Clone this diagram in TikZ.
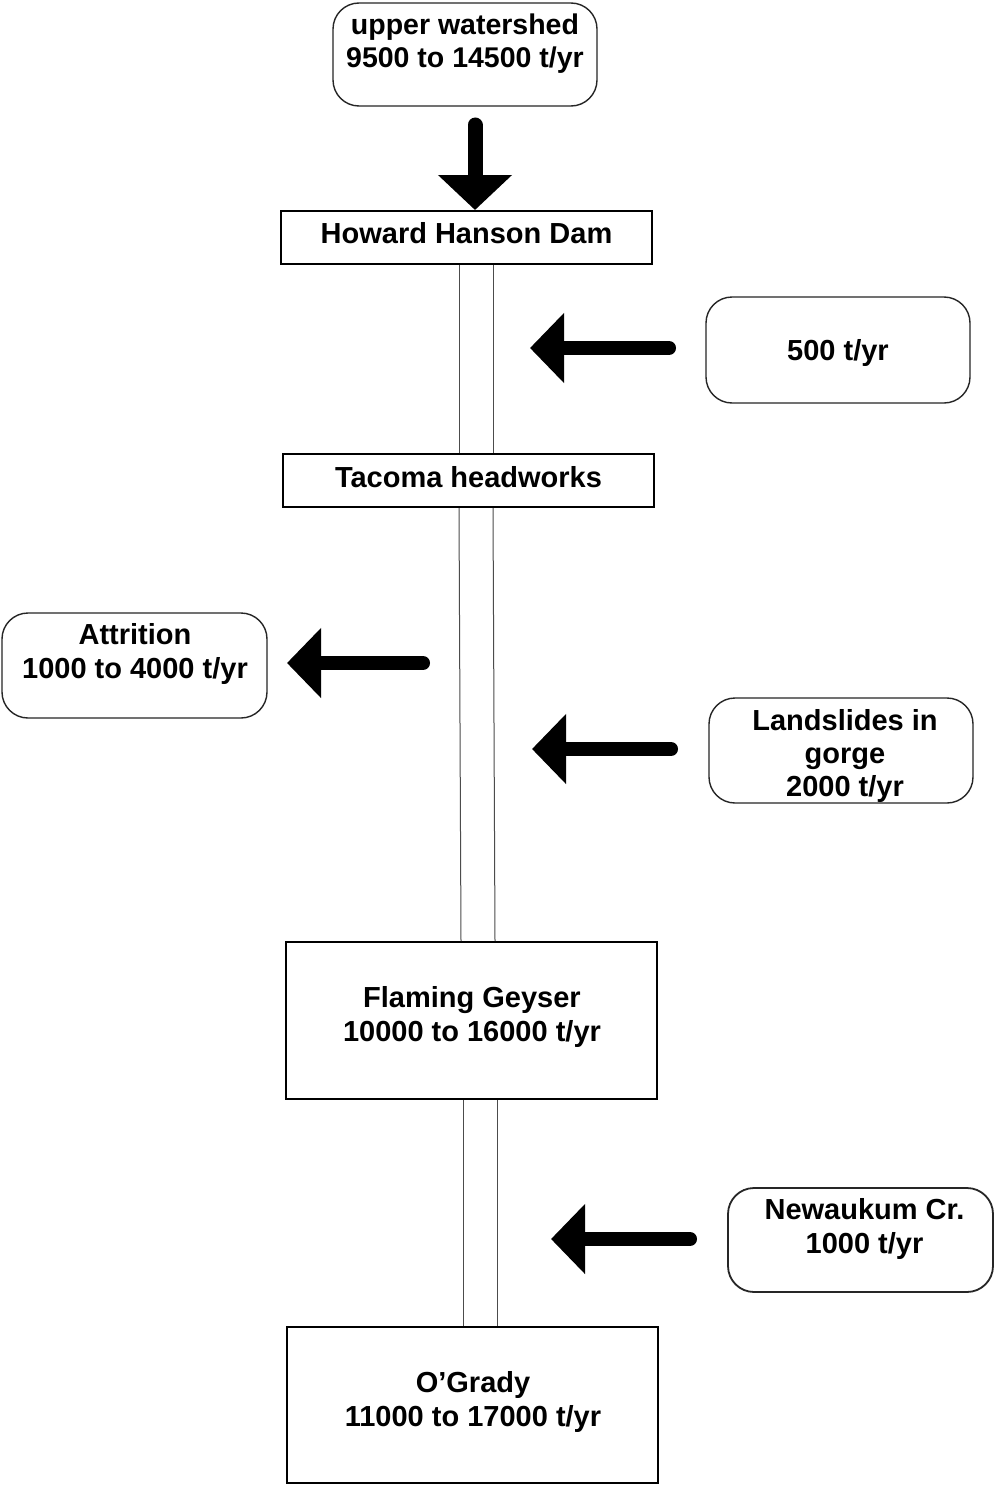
\documentclass[tikz,border=0pt]{standalone}
\usepackage{fontspec}
\setmainfont{Liberation Sans}
\usetikzlibrary{arrows.meta,calc}
\begin{document}
\begin{tikzpicture}[x=1pt,y=-1pt,
  rbox/.style={draw=black!85, line width=1.4pt, rounded corners=26pt, inner sep=0pt},
  sbox/.style={draw, line width=2pt, inner sep=0pt},
  lbl/.style={font=\bfseries\fontsize{29}{34}\selectfont, align=center, inner sep=0pt},
  chan/.style={draw=black!70, line width=1pt},
  flow/.style={line width=14pt, line cap=round, -{Triangle[length=34pt,width=68pt]}},
  flowdown/.style={line width=15pt, line cap=round, -{Triangle[length=35pt,width=72pt]}},
]
\useasboundingbox[fill=white] (0,0) rectangle (995,1485);

% rounded source boxes
\node[rbox, minimum width=264pt, minimum height=103pt] (uw) at (465,54.5) {};
\node[lbl, font=\bfseries\fontsize{28.5}{33}\selectfont] (uwt) at (465,44) {upper watershed\\9500 to 14500 t/yr};

\node[rbox, lbl, text depth=0pt, minimum width=264pt, minimum height=106pt] (w500) at (838,350) {500 t/yr};

\node[rbox, minimum width=265pt, minimum height=105pt] (att) at (134.5,665.5) {};
\node[lbl] (attt) at (135,653.5) {Attrition\\1000 to 4000 t/yr};

\node[rbox, minimum width=264pt, minimum height=105pt] (land) at (841,750.5) {};
\node[lbl, font=\bfseries\fontsize{29}{33}\selectfont] (landt) at (845,755.5) {Landslides in\\gorge\\2000 t/yr};

\node[rbox, line width=1.8pt, minimum width=265pt, minimum height=104pt] (new) at (860.5,1240) {};
\node[lbl] (newt) at (864.5,1229) {Newaukum Cr.\\1000 t/yr};

% square boxes
\node[sbox, lbl, text depth=9pt, minimum width=371pt, minimum height=53pt] (hhd) at (466.5,237.5) {Howard Hanson Dam};
\node[sbox, lbl, text depth=7pt, minimum width=371pt, minimum height=53pt] (tac) at (468.5,480.5) {Tacoma headworks};
\node[sbox, minimum width=371pt, minimum height=157pt] (fg) at (471.5,1020.5) {};
\node[lbl] (fgt) at (472,1016.5) {Flaming Geyser\\10000 to 16000 t/yr};
\node[sbox, minimum width=371pt, minimum height=156pt] (og) at (472.5,1405) {};
\node[lbl] (ogt) at (473,1402) {O’Grady\\11000 to 17000 t/yr};

% channel lines
\draw[chan] (hhd.south -| 459,0) -- (tac.north -| 459,0);
\draw[chan] (hhd.south -| 493,0) -- (tac.north -| 493,0);
\draw[chan] (tac.south -| 459,0) -- (fg.north -| 461,0);
\draw[chan] (tac.south -| 493,0) -- (fg.north -| 495,0);
\draw[chan] (fg.south -| 463,0) -- (og.north -| 463,0);
\draw[chan] (fg.south -| 497,0) -- (og.north -| 497,0);

% flow arrows
\coordinate (d1) at (475,125);
\draw[flowdown] (d1) -- (hhd.north -| 475,0);

\coordinate (s500) at (669,348);
\coordinate (e500) at (530,348);
\draw[flow] (s500) -- (e500);

\coordinate (satt) at (423,663);
\coordinate (eatt) at (287,663);
\draw[flow] (satt) -- (eatt);

\coordinate (sland) at (671,749);
\coordinate (eland) at (532,749);
\draw[flow] (sland) -- (eland);

\coordinate (snew) at (690,1239);
\coordinate (enew) at (551,1239);
\draw[flow] (snew) -- (enew);
\end{tikzpicture}
\end{document}
